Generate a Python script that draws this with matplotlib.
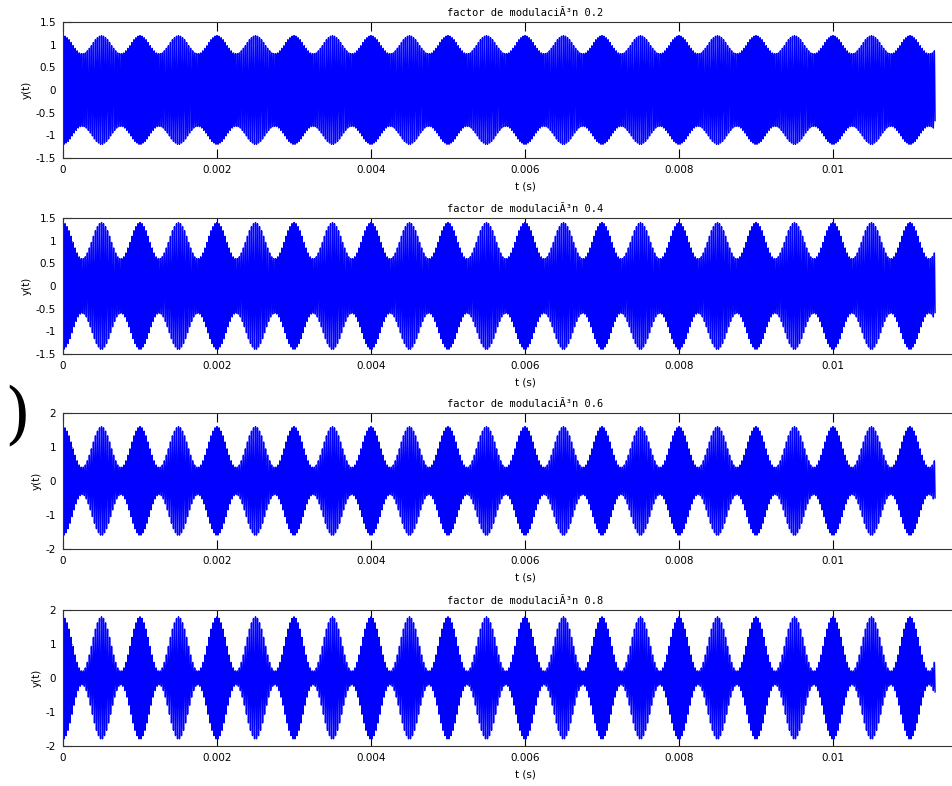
import numpy as np
import matplotlib.pyplot as plt

# señal AM: portadora fc modulada por un tono fm, para varios factores de modulación
fs = 1000000
duracion = 0.011327
fc = 38000
fm = 2000
factores = [0.2, 0.4, 0.6, 0.8]
ylims = [(-1.5, 1.5), (-1.5, 1.5), (-2, 2), (-2, 2)]
yticks = [[-1.5, -1, -0.5, 0, 0.5, 1, 1.5],
          [-1.5, -1, -0.5, 0, 0.5, 1, 1.5],
          [-2, -1, 0, 1, 2],
          [-2, -1, 0, 1, 2]]
xticks = [0, 0.002, 0.004, 0.006, 0.008, 0.01]
xticklabels = ['0', '0.002', '0.004', '0.006', '0.008', '0.01']

t = np.arange(0, duracion, 1 / fs)

fig = plt.figure(figsize=(9.53, 7.86), dpi=100)
W, H = 953, 786
tops = [22, 218, 413, 610]
alto = 136
left, right = 63, 987

for i, m in enumerate(factores):
    ax = fig.add_axes([left / W, 1 - (tops[i] + alto) / H, (right - left) / W, alto / H])
    y = (1 + m * np.cos(2 * np.pi * fm * t)) * np.cos(2 * np.pi * fc * t)
    ax.plot(t, y, color='#0000ff', lw=1.0)
    ax.set_xlim(0, 0.012)
    ax.set_ylim(*ylims[i])
    ax.set_yticks(yticks[i])
    ax.set_yticklabels(['%g' % v for v in yticks[i]])
    ax.set_xticks(xticks)
    ax.set_xticklabels(xticklabels)
    ax.tick_params(direction='in', length=6.5, width=0.8, top=True, right=True,
                   labelsize=7.5, pad=5)
    for s in ax.spines.values():
        s.set_linewidth(0.8)
        s.set_color('#333333')
    ax.set_title('factor de modulaciÃ³n %g' % m, fontsize=7.5,
                 family='DejaVu Sans Mono', pad=4)
    ax.set_xlabel('t (s)', fontsize=7.5, labelpad=5)
    ax.set_ylabel('y(t)', fontsize=7.5, labelpad=3)

fig.text(0.004, 0.47, ')', fontsize=48, family='DejaVu Serif', va='center')

fig.savefig('out.png', dpi=100)
